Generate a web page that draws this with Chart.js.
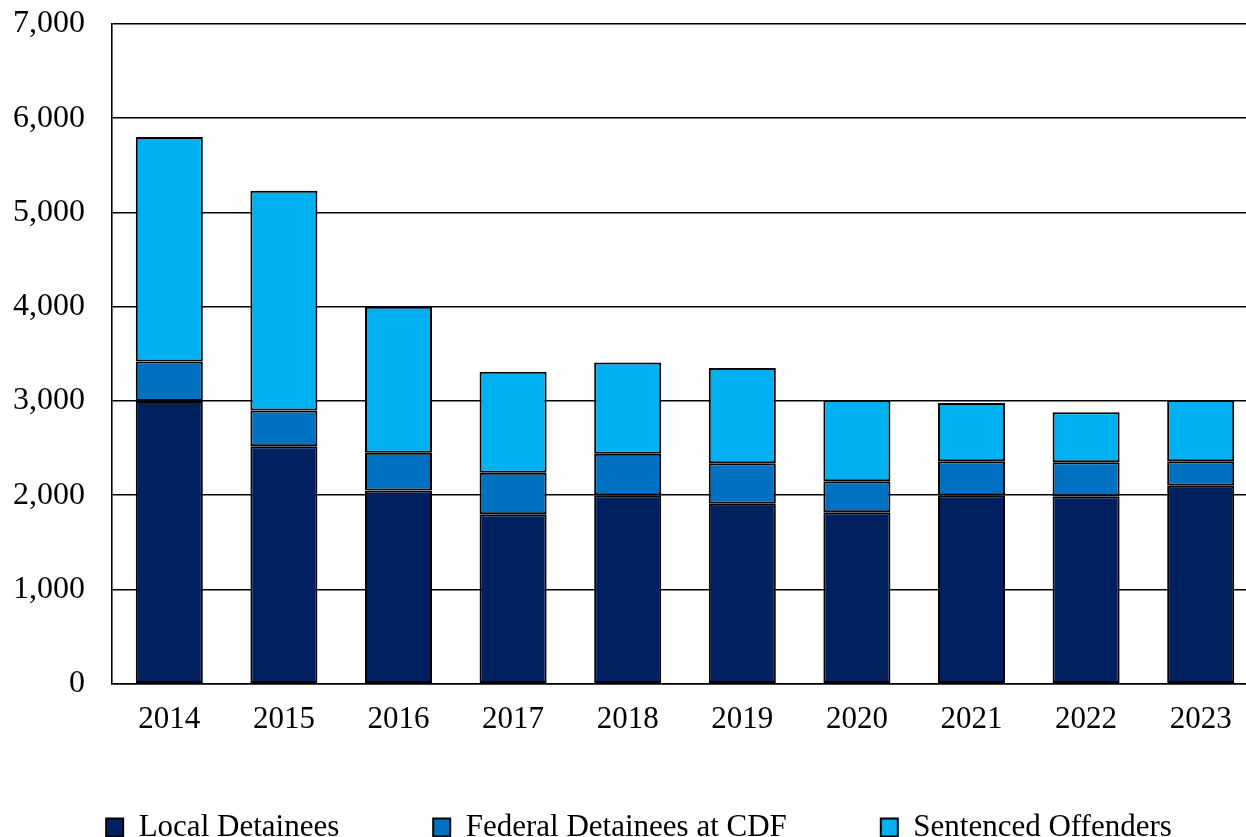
<!DOCTYPE html>
<html>
<head>
<meta charset="utf-8">
<script src="https://cdn.jsdelivr.net/npm/chart.js@4/dist/chart.umd.min.js"></script>
<style>
  html, body { margin: 0; padding: 0; background: #fff; overflow: hidden; }
  #wrap { width: 1258px; height: 837px; }
</style>
</head>
<body>
<div id="wrap"><canvas id="chart" width="1258" height="837"></canvas></div>
<script>
// Chart data
const years = ['2014', '2015', '2016', '2017', '2018', '2019', '2020', '2021', '2022', '2023'];
const localDetainees = [3000, 2520, 2050, 1800, 2000, 1910, 1820, 2000, 1990, 2100];
const federalDetainees = [420, 380, 400, 440, 440, 430, 330, 360, 360, 260];
const sentencedOffenders = [2380, 2330, 1550, 1070, 970, 1010, 860, 620, 530, 650];

const FONT = "'Liberation Serif', 'Times New Roman', serif";

// legend spacing is horizontal only in the original, so keep it on one row,
// squeeze its height and place it by hand after layout
const legendPlacer = {
    id: 'legendPlacer',
    beforeUpdate(chart) {
        const lg = chart.legend;
        if (lg && !lg._patched) {
            const origFit = lg.fit.bind(lg);
            lg.fit = function () {
                this.maxWidth = 1600;
                origFit();
                this.height = 82;
            };
            lg._patched = true;
        }
    },
    afterLayout(chart) {
        const lg = chart.legend;
        lg.top = 718;
        lg.bottom = 837;
        lg.height = lg.bottom - lg.top;
        lg.left = 0;
        lg.right = 1278;
        lg.width = 1278;
    }
};

const commonBar = {
    borderColor: '#000',
    borderWidth: 2,
    borderSkipped: false,
    barPercentage: 0.585,
    categoryPercentage: 1
};

new Chart(document.getElementById('chart').getContext('2d'), {
    type: 'bar',
    data: {
        labels: years,
        datasets: [
            { label: 'Local Detainees', data: localDetainees, backgroundColor: '#002060', ...commonBar },
            { label: 'Federal Detainees at CDF', data: federalDetainees, backgroundColor: '#0070C0', ...commonBar },
            { label: 'Sentenced Offenders', data: sentencedOffenders, backgroundColor: '#00B0F0', ...commonBar }
        ]
    },
    options: {
        responsive: false,
        animation: false,
        devicePixelRatio: 1,
        layout: { padding: { top: 24, left: 0, right: 0, bottom: 0 } },
        scales: {
            x: {
                stacked: true,
                grid: { display: false, drawTicks: false },
                border: { display: true, color: '#000', width: 1.6 },
                ticks: { color: '#000', padding: 17, font: { family: FONT, size: 31 } },
                afterFit: s => { s.paddingLeft = 0; s.paddingRight = 0; }
            },
            y: {
                stacked: true,
                min: 0,
                max: 7000,
                afterFit: s => { s.width = 112; s.paddingTop = 0; s.paddingBottom = 0; },
                grid: { color: '#000', lineWidth: 1.6, drawTicks: false },
                border: { display: true, color: '#000', width: 1.6 },
                ticks: { stepSize: 1000, color: '#000', padding: 27, font: { family: FONT, size: 32 } }
            }
        },
        plugins: {
            tooltip: { enabled: false },
            legend: {
                position: 'bottom',
                labels: {
                    color: '#000',
                    boxWidth: 17,
                    boxHeight: 18,
                    padding: 94,
                    font: { family: FONT, size: 31 }
                }
            }
        }
    },
    plugins: [legendPlacer]
});
</script>
</body>
</html>
